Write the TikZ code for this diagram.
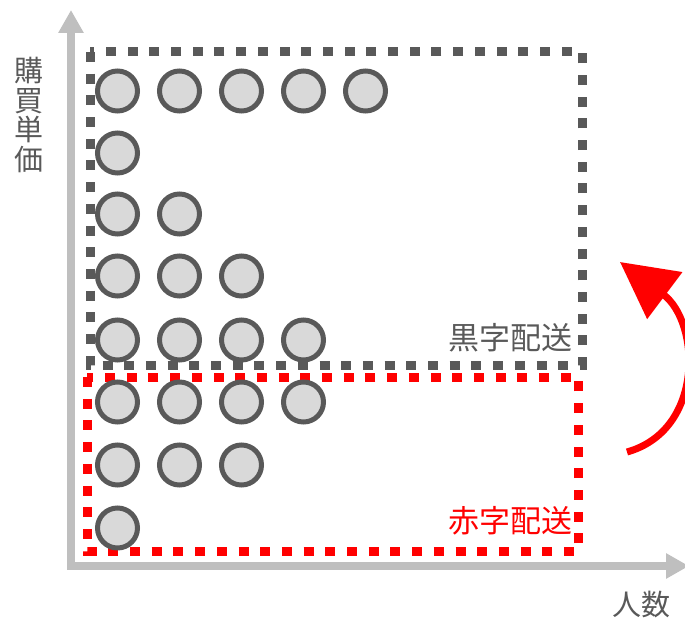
\documentclass[tikz,border=0pt]{standalone}
\usepackage{fontspec}
\newfontfamily\jp{Noto Sans CJK JP}
\usetikzlibrary{arrows.meta}
\definecolor{dk}{HTML}{595959}
\definecolor{axc}{HTML}{BFBFBF}
\definecolor{cf}{HTML}{D9D9D9}
\definecolor{rd}{HTML}{FF0000}
\tikzset{
  axisline/.style={draw=axc, line width=8, miter limit=10},
  graybox/.style={draw=dk, line width=9, dash pattern=on 10 off 11.7},
  redbox/.style={draw=rd, line width=9, dash pattern=on 10 off 11.7},
  dot/.style={circle, draw=dk, fill=cf, line width=5, minimum size=40, inner sep=0},
  biglab/.style={font=\jp\fontsize{31}{31}\selectfont, inner sep=0},
  axlab/.style={font=\jp\fontsize{29}{29.5}\selectfont, inner sep=0, text=dk},
}
\begin{document}
\begin{tikzpicture}[x=1pt,y=-1pt]
\useasboundingbox (0,0) rectangle (685,620);
% axes
\coordinate (ytip) at (71,10);
\coordinate (orig) at (71,566);
\coordinate (xtip) at (689,566);
\draw[axisline, {Triangle[length=23,width=24]}-{Triangle[length=23,width=24]}] (ytip) -- (orig) -- (xtip);
% boxes
\draw[graybox] (90,52) rectangle (582,365);
\draw[redbox] (87,377) rectangle (578,551);
% circles
\foreach \r/\y/\n in {1/91/5, 2/153/1, 3/214/2, 4/276/3, 5/340/4, 6/402/4, 7/465/3, 8/528/1}{
  \foreach \c in {1,...,\n}{
    \node[dot] (c-\r-\c) at ({117.5+62*(\c-1)},\y) {};
  }
}
% labels
\node[biglab, text=dk, anchor=east] (kuro) at (573,338) {黒字配送};
\node[biglab, text=rd, anchor=east] (aka) at (573,521) {赤字配送};
\node[axlab] (xlab) at (641,605) {人数};
\node[axlab, align=center] (ylab) at (29,115) {購\\買\\単\\価};
% red arrow
\coordinate (as) at (627,452);
\coordinate (ae) at (620,262);
\draw[rd, line width=7, -{Triangle[length=56,width=57]}] (as) .. controls (705,430) and (700,322) .. (ae);
\end{tikzpicture}
\end{document}
